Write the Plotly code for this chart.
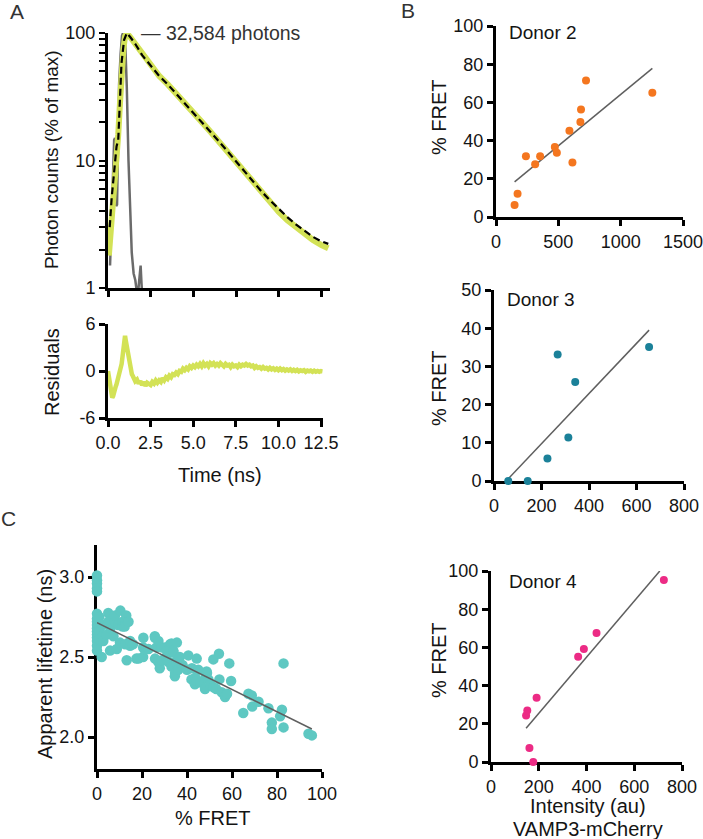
import plotly.graph_objects as go

W, H = 703, 839
def fx(p): return p / W
def fy(p): return 1 - p / H

FONT = "Liberation Sans, Arial, sans-serif"
TXT = "#141414"

# ---------------- Panel A : decay ----------------
decay_t = [0.05, 0.15, 0.3, 0.4, 0.5, 0.6, 0.7, 0.8, 0.9, 1.0, 1.1, 1.3, 1.6, 2.0, 2.5, 3.0,
           3.5, 4.0, 4.5, 5.0, 5.5, 6.0, 6.5, 7.0, 7.5, 8.0, 8.5, 9.0, 9.5, 10.0, 10.5,
           11.0, 11.5, 12.0, 12.5, 12.9]
decay_y = [1.8, 2.6, 4.5, 6.3, 9.5, 16, 28, 50, 75, 94, 100, 93, 82, 67, 55, 46,
           39.5, 33, 28, 23.6, 20, 16.8, 14.0, 11.6, 9.6, 7.9, 6.6, 5.5, 4.65, 3.95, 3.4,
           3.0, 2.65, 2.38, 2.17, 2.05]
fit_t = [0.1, 0.22, 0.41, 0.5, 0.6, 0.69, 0.79, 0.94, 1.1, 1.3, 1.6, 2.0, 2.5, 3.0, 3.5,
         4.0, 4.5, 5.0, 5.5, 6.0, 6.5, 7.0, 7.5, 8.0, 8.5, 9.0, 9.5, 10.0, 10.5, 11.0,
         11.5, 12.0, 12.5, 12.9]
fit_y = [3.0, 5.2, 9.6, 12.9, 14.5, 28, 58, 88, 100, 93, 82, 67, 55, 46, 39.5,
         33, 28, 23.6, 20, 16.9, 14.1, 11.8, 9.8, 8.1, 6.8, 5.7, 4.85, 4.15, 3.6, 3.15,
         2.8, 2.52, 2.32, 2.22]
irf_t = [0.12, 0.22, 0.3, 0.36, 0.41, 0.45, 0.48, 0.53, 0.58, 0.65, 0.74, 0.82, 0.88,
         0.95, 1.0, 1.05, 1.1, 1.2, 1.29, 1.39, 1.5, 1.6, 1.68, 1.74, 1.8, 1.86, 1.91,
         1.96, 2.02]
irf_y = [1.5, 4.4, 12, 14.5, 15, 9, 4.4, 4.5, 12.9, 40, 69, 95, 100,
         100, 90, 65, 38, 10, 3.9, 1.9, 1.3, 1.15, 0.95, 0.8, 1.05, 1.35, 1.5,
         1.1, 0.8]
log_ticks = [1, 2, 3, 4, 5, 6, 7, 8, 9, 10, 20, 30, 40, 50, 60, 70, 80, 90, 100]
log_labels = ["1", "", "", "", "", "", "", "", "", "10", "", "", "", "", "", "", "", "", "100"]

resid_t = [0.0, 0.05, 0.1, 0.15, 0.2, 0.25, 0.3, 0.35, 0.4, 0.45, 0.5, 0.55, 0.6, 0.65, 0.7,
           0.75, 0.8, 0.85, 0.9, 0.95, 1.0, 1.05, 1.1, 1.15, 1.2, 1.25, 1.3, 1.35, 1.4, 1.45,
           1.5, 1.6, 1.7, 1.8, 1.9, 2.0, 2.1, 2.2, 2.3, 2.4, 2.5, 2.6, 2.7, 2.8, 2.9, 3.0,
           3.1, 3.2, 3.3, 3.4, 3.5, 3.6, 3.7, 3.8, 3.9, 4.0, 4.1, 4.2, 4.3, 4.4, 4.5, 4.6,
           4.7, 4.8, 4.9, 5.0, 5.1, 5.2, 5.3, 5.4, 5.5, 5.6, 5.7, 5.8, 5.9, 6.0, 6.1, 6.2,
           6.3, 6.4, 6.5, 6.6, 6.7, 6.8, 6.9, 7.0, 7.1, 7.2, 7.3, 7.4, 7.5, 7.6, 7.7, 7.8,
           7.9, 8.0, 8.1, 8.2, 8.3, 8.4, 8.5, 8.6, 8.7, 8.8, 8.9, 9.0, 9.1, 9.2, 9.3, 9.4,
           9.5, 9.6, 9.7, 9.8, 9.9, 10.0, 10.1, 10.2, 10.3, 10.4, 10.5, 10.6, 10.7, 10.8,
           10.9, 11.0, 11.1, 11.2, 11.3, 11.4, 11.5, 11.6, 11.7, 11.8, 11.9, 12.0, 12.1,
           12.2, 12.3, 12.4, 12.5, 12.6]
resid_v = [0.0, -0.6, -1.3, -2.2, -2.9, -3.4, -3.2, -2.6, -2.2, -2.0, -1.7, -1.3, -1.0, -0.8, -0.3,
           0.2, 0.9, 1.8, 2.7, 3.6, 4.5, 3.8, 3.1, 2.9, 1.9, 1.3, 0.6, 0.1, -0.4, -0.6,
           -0.9, -1.3, -1.1, -1.6, -1.3, -1.8, -1.4, -1.9, -1.5, -1.7, -1.8, -1.4, -1.6, -1.2, -1.5, -1.2,
           -1.4, -0.9, -1.2, -0.8, -1.0, -0.6, -0.8, -0.4, -0.5, -0.2, -0.4, 0.0, -0.1, 0.3, 0.1, 0.4,
           0.2, 0.6, 0.4, 0.7, 0.5, 0.8, 0.6, 0.9, 0.6, 1.0, 0.7, 0.9, 0.6, 1.0, 0.8, 1.0,
           0.7, 0.9, 0.7, 1.0, 0.8, 0.6, 0.9, 0.7, 0.8, 0.5, 0.8, 0.6, 0.7, 0.5, 0.8, 0.6,
           0.8, 0.7, 0.9, 0.7, 0.8, 0.6, 0.7, 0.4, 0.6, 0.4, 0.5, 0.3, 0.5, 0.3, 0.4, 0.2,
           0.4, 0.2, 0.35, 0.15, 0.3, 0.1, 0.3, 0.1, 0.25, 0.05, 0.2, 0.05, 0.2, 0.0,
           0.15, 0.0, 0.15, -0.05, 0.1, 0.0, 0.1, -0.1, 0.05, -0.05, 0.05, -0.1, 0.05,
           -0.1, 0.0, -0.1, 0.0, -0.05]

# ---------------- Panel B ----------------
d2_x = [149, 173, 240, 314, 354, 472, 488, 589, 613, 682, 677, 722, 1254]
d2_y = [6.3, 12.2, 31.8, 27.6, 31.8, 36.7, 33.6, 45.1, 28.5, 56.3, 49.7, 71.5, 65.0]
d2_fit_x = [149, 1254]
d2_fit_y = [18.4, 77.8]

d3_x = [60, 142, 225, 313, 268, 342, 653]
d3_y = [0, 0, 5.9, 11.4, 33.1, 25.9, 35.1]
d3_fit_x = [60, 653]
d3_fit_y = [0.6, 39.5]

d4_x = [147, 152, 161, 177, 191, 365, 389, 442, 724]
d4_y = [24.3, 26.9, 7.3, 0, 33.7, 55.1, 59.1, 67.5, 95.3]
d4_fit_x = [147, 707]
d4_fit_y = [17.7, 100]

# ---------------- Panel C ----------------
c_fret = [0, 0, 0, 0, 0, 0, 0, 0, 0, 0, 0, 0, 0, 0, 0, 0,
          1, 1, 1, 2.1, 2.5, 2.5, 2.8, 4.3, 5.0, 5.0, 5.8, 6, 7.3, 8.0, 8.0, 8.8, 9.5,
          10.2, 10.4, 11.4, 11.4, 12.3, 12.5, 13.0, 13.2, 14.0, 14.7, 14.7, 16,
          17.5, 18.4, 20.5, 20.5, 20.6, 21, 22.9, 25.7, 25.8, 25.8, 26.4, 27.2, 27.3,
          27.9, 28.8, 28.8, 30.2, 30.9, 31.0, 31.6, 32.5, 33.1, 33.1, 33.9, 34.0, 34.6,
          34.7, 35.4, 35.5, 35.5, 36.1, 36.8, 37.6, 38, 40, 40.6, 42, 42.2, 43.5, 43.7,
          44.3, 44.4, 45, 46, 48, 48.1, 48.7, 48.9, 49.5, 50.3, 51.7, 51.8, 53, 54.2,
          54.4, 55.4, 56.9, 57.8, 58.8, 59.6, 65, 67.3, 68.8, 69, 71.8, 76.2, 77.7,
          77.7, 81.4, 82.2, 82.9, 82.9, 94, 95.5]
c_life = [3.01, 2.98, 2.96, 2.93, 2.91, 2.77, 2.74, 2.72, 2.70, 2.68, 2.66, 2.64, 2.62, 2.60, 2.57, 2.54,
          2.75, 2.66, 2.61, 2.50, 2.70, 2.63, 2.60, 2.64, 2.775, 2.72, 2.54, 2.68, 2.63, 2.72, 2.76, 2.55, 2.70,
          2.59, 2.79, 2.72, 2.69, 2.69, 2.58, 2.76, 2.48, 2.72, 2.57, 2.60, 2.58,
          2.49, 2.49, 2.50, 2.56, 2.62, 2.55, 2.55, 2.63, 2.62, 2.49, 2.56, 2.47, 2.60,
          2.43, 2.56, 2.48, 2.56, 2.50, 2.54, 2.47, 2.58, 2.585, 2.44, 2.54, 2.53, 2.38,
          2.40, 2.48, 2.46, 2.59, 2.42, 2.50, 2.45, 2.45, 2.42, 2.51, 2.36, 2.43, 2.33, 2.37,
          2.49, 2.35, 2.42, 2.34, 2.30, 2.37, 2.41, 2.40, 2.36, 2.33, 2.485, 2.31, 2.30, 2.52,
          2.36, 2.28, 2.25, 2.27, 2.46, 2.35, 2.15, 2.27, 2.26, 2.19, 2.22, 2.18, 2.09,
          2.05, 2.13, 2.17, 2.06, 2.46, 2.02, 2.01]
c_fit_x = [0, 95.5]
c_fit_y = [2.714, 2.05]

# colours
YEL = "#d3e256"
ORANGE = "#f4761f"
TEAL = "#1b8199"
PINK = "#ec2b85"
CYAN = "#5ec8c2"
FITGRAY = "#5f5f5f"

fig = go.Figure()

# Panel A top
fig.add_trace(go.Scatter(x=irf_t, y=irf_y, mode="lines", line=dict(color="#6b6b6b", width=2.5),
                         xaxis="x", yaxis="y", showlegend=False))
fig.add_trace(go.Scatter(x=decay_t, y=decay_y, mode="lines", line=dict(color=YEL, width=6),
                         xaxis="x", yaxis="y", showlegend=False))
fig.add_trace(go.Scatter(x=fit_t, y=fit_y, mode="lines", line=dict(color="black", width=2.2, dash="7px,4px"),
                         xaxis="x", yaxis="y", showlegend=False))
# Panel A residuals
fig.add_trace(go.Scatter(x=resid_t, y=resid_v, mode="lines", line=dict(color=YEL, width=4.5),
                         xaxis="x2", yaxis="y2", showlegend=False))

# Panel B
for xs, ys, fxs, fys, col, ax in [
    (d2_x, d2_y, d2_fit_x, d2_fit_y, ORANGE, "3"),
    (d3_x, d3_y, d3_fit_x, d3_fit_y, TEAL, "4"),
    (d4_x, d4_y, d4_fit_x, d4_fit_y, PINK, "5"),
]:
    fig.add_trace(go.Scatter(x=fxs, y=fys, mode="lines", line=dict(color=FITGRAY, width=1.5),
                             xaxis="x" + ax, yaxis="y" + ax, showlegend=False))
    fig.add_trace(go.Scatter(x=xs, y=ys, mode="markers", marker=dict(color=col, size=8),
                             cliponaxis=False, xaxis="x" + ax, yaxis="y" + ax, showlegend=False))

# Panel C
fig.add_trace(go.Scatter(x=c_fret, y=c_life, mode="markers", marker=dict(color=CYAN, size=10.5),
                         cliponaxis=False, xaxis="x6", yaxis="y6", showlegend=False))
fig.add_trace(go.Scatter(x=c_fit_x, y=c_fit_y, mode="lines", line=dict(color=FITGRAY, width=1.5),
                         xaxis="x6", yaxis="y6", showlegend=False))

axcommon = dict(showline=True, linecolor="black", linewidth=3, ticks="outside", ticklen=6,
                tickwidth=2.6, tickcolor="black", showgrid=False, zeroline=False,
                automargin=False, ticklabeloverflow="allow",
                tickfont=dict(family=FONT, size=18, color=TXT), layer="below traces")

def xa(domain, rng, anchor, tickvals, showlabels=True, ticktext=None):
    d = dict(axcommon)
    d.update(domain=domain, range=rng, anchor=anchor, tickmode="array", tickvals=tickvals,
             showticklabels=showlabels)
    if ticktext is not None:
        d["ticktext"] = ticktext
    return d

layout = dict(
    width=W, height=H, margin=dict(l=0, r=0, t=0, b=0, autoexpand=False),
    paper_bgcolor="white", plot_bgcolor="rgba(0,0,0,0)",
    font=dict(family=FONT, color=TXT),
    showlegend=False,
)

# Panel A top
layout["xaxis"] = xa([fx(108), fx(330)], [0, 13.0], "y", [0, 2.5, 5, 7.5, 10, 12.5], showlabels=False)
ya = dict(axcommon)
ya.update(domain=[fy(288), fy(33)], type="log", range=[0, 2], anchor="x",
          tickmode="array", tickvals=log_ticks, ticktext=log_labels, ticklen=6, tickwidth=2.4)
layout["yaxis"] = ya
# Panel A residuals
layout["xaxis2"] = xa([fx(108), fx(322.7)], [0, 12.6], "y2", [0, 2.5, 5, 7.5, 10, 12.5],
                      ticktext=["0.0", "2.5", "5.0", "7.5", "10.0", "12.5"])
y2 = dict(axcommon)
y2.update(domain=[fy(418), fy(324)], range=[-6, 6], anchor="x2", tickmode="array",
          tickvals=[-6, 0, 6], ticktext=["-6", "0", "6"])
layout["yaxis2"] = y2

# Panel B Donor 2
layout["xaxis3"] = xa([fx(496), fx(683)], [0, 1500], "y3", [0, 500, 1000, 1500])
y3 = dict(axcommon)
y3.update(domain=[fy(217), fy(26)], range=[0, 100], anchor="x3", tickmode="array",
          tickvals=[0, 20, 40, 60, 80, 100])
layout["yaxis3"] = y3
# Donor 3
layout["xaxis4"] = xa([fx(494), fx(684)], [0, 800], "y4", [0, 200, 400, 600, 800])
y4 = dict(axcommon)
y4.update(domain=[fy(481), fy(290)], range=[0, 50], anchor="x4", tickmode="array",
          tickvals=[0, 10, 20, 30, 40, 50])
layout["yaxis4"] = y4
# Donor 4
layout["xaxis5"] = xa([fx(491), fx(682)], [0, 800], "y5", [0, 200, 400, 600, 800])
y5 = dict(axcommon)
y5.update(domain=[fy(762), fy(571)], range=[0, 100], anchor="x5", tickmode="array",
          tickvals=[0, 20, 40, 60, 80, 100])
layout["yaxis5"] = y5
# Panel C
layout["xaxis6"] = xa([fx(97), fx(322)], [0, 100], "y6", [0, 20, 40, 60, 80, 100])
y6 = dict(axcommon)
y6.update(domain=[fy(769), fy(545)], range=[1.8, 3.2], anchor="x6", tickmode="array",
          tickvals=[2.0, 2.5, 3.0], ticktext=["2.0", "2.5", "3.0"])
layout["yaxis6"] = y6

def ann(text, x, y, size=19, angle=0, xanchor="center", yanchor="middle", color=TXT):
    return dict(text=text, x=fx(x), y=fy(y), xref="paper", yref="paper", showarrow=False,
                textangle=angle, xanchor=xanchor, yanchor=yanchor,
                font=dict(family=FONT, size=size, color=color))

layout["annotations"] = [
    ann("A", 17, 12, size=21, color="#333"),
    ann("B", 408, 11, size=21, color="#333"),
    ann("C", 8, 518, size=21, color="#333"),
    ann("Photon counts (% of max)", 52, 160, size=19, angle=-90),
    ann("Residuals", 52, 372, size=20, angle=-90),
    ann("Time (ns)", 220, 475, size=20),
    ann("\u2014 32,584 photons", 139, 33, size=19.5, xanchor="left", color="#333"),
    ann("% FRET", 439, 117, size=20, angle=-90),
    ann("% FRET", 439, 388, size=20, angle=-90),
    ann("% FRET", 439, 660, size=20, angle=-90),
    ann("Donor 2", 507, 33, size=19, xanchor="left"),
    ann("Donor 3", 505, 300, size=19, xanchor="left"),
    ann("Donor 4", 507, 581, size=19, xanchor="left"),
    ann("Intensity (au)", 588, 806, size=20),
    ann("VAMP3-mCherry", 588, 829, size=20),
    ann("Apparent lifetime (ns)", 45, 664, size=20, angle=-90),
    ann("% FRET", 213, 818, size=20),
]

fig.update_layout(**layout)
fig.write_html("out.html", config={"displayModeBar": False},
               post_script="document.body.style.margin='0';document.body.style.overflow='hidden';")
